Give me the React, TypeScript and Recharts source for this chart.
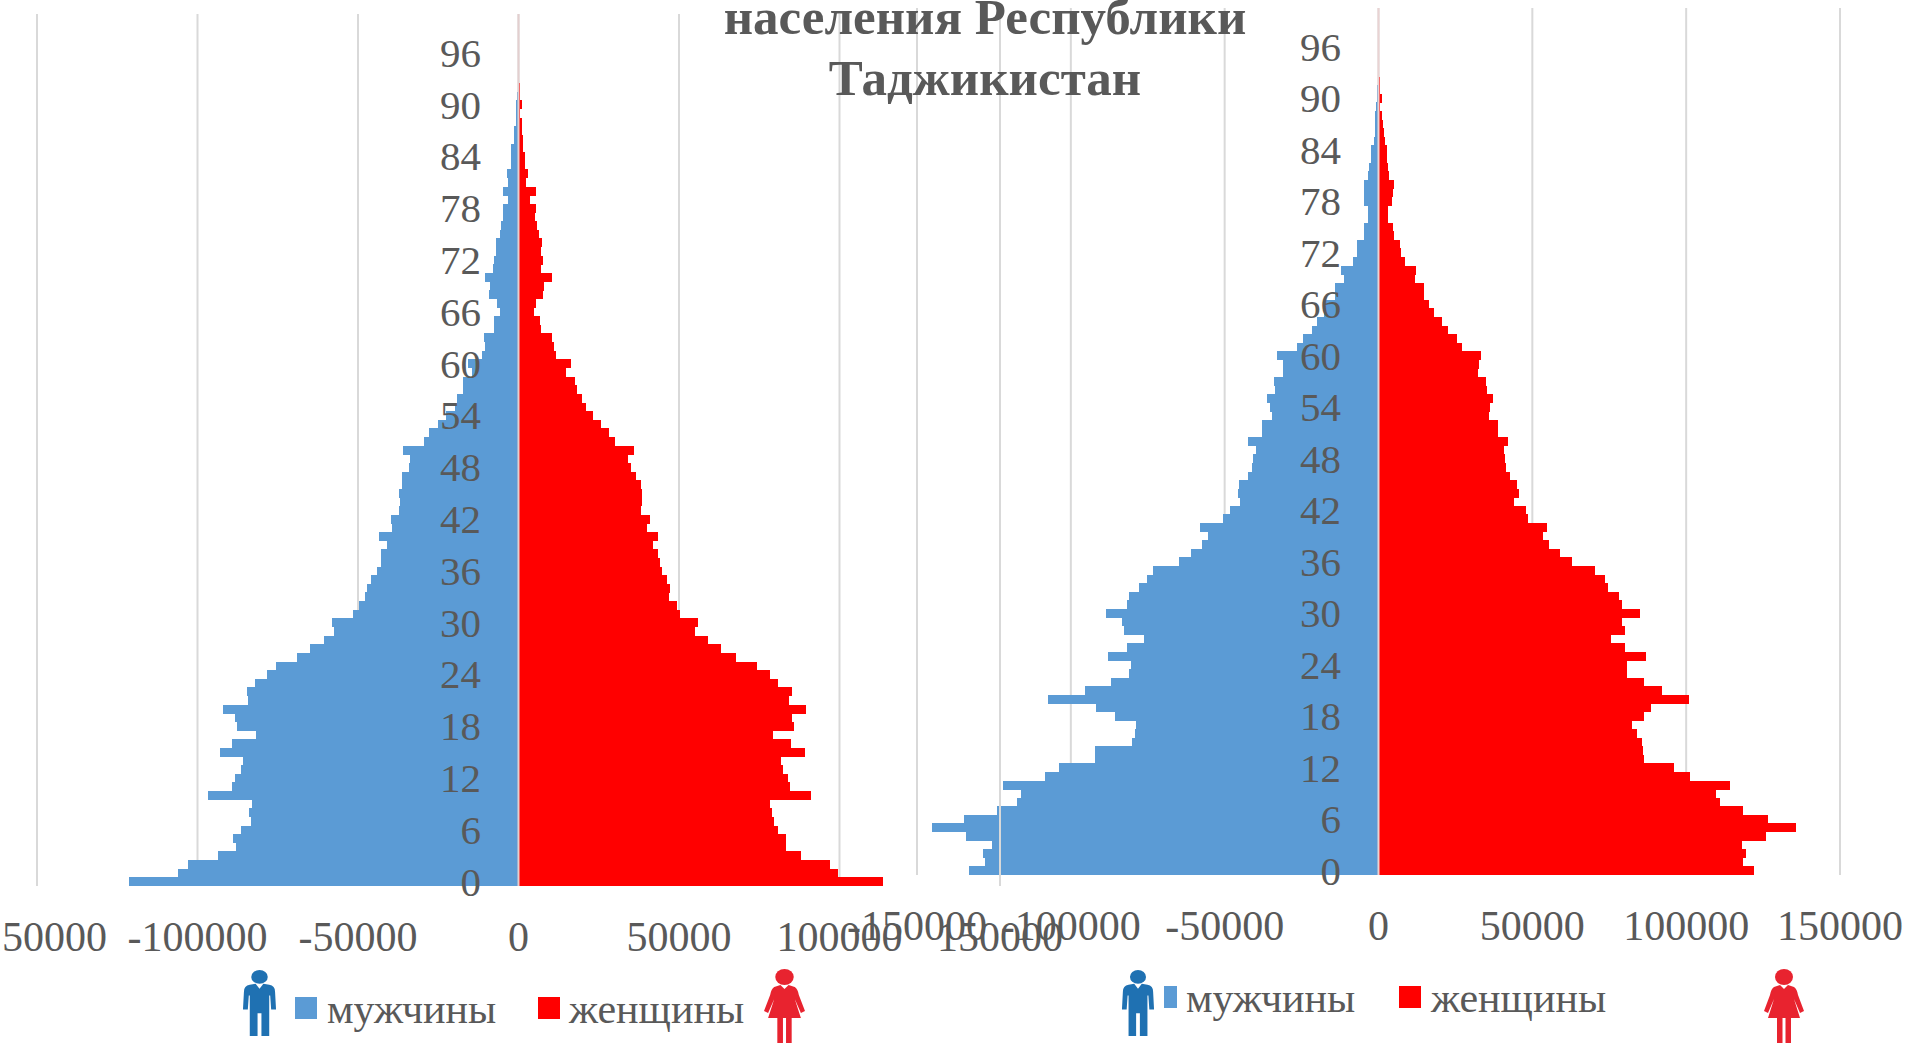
import { Bar, BarChart, CartesianGrid, Legend, ReferenceLine, XAxis, YAxis } from "recharts";

const maleLeft = [121350, 106080, 102840, 93490, 87960, 88910, 86430, 83380, 83950, 83000, 96740, 89100, 88340, 86430, 85670, 93110, 89100, 81660, 87580, 88340, 91970, 84330, 84520, 82230, 78230, 75560, 69070, 65060, 60480, 57620, 58000, 51520, 49800, 47700, 47320, 45980, 44070, 42930, 42740, 40830, 43310, 39500, 39690, 37210, 36820, 37210, 36440, 36250, 34150, 33770, 36060, 29570, 27860, 24990, 22510, 19650, 19270, 17170, 17170, 14500, 15840, 11450, 10300, 10680, 7630, 7630, 5910, 6680, 9160, 8780, 10300, 7820, 7630, 7060, 7060, 5910, 5340, 4960, 4770, 3240, 4770, 3240, 3630, 2480, 2290, 2290, 1340, 1340, 760, 760, 760, 400, 300, 220, 160, 110, 80, 60, 40, 30, 20];
const femaleLeft = [113530, 99600, 96930, 88150, 83380, 83380, 80900, 79750, 78990, 78230, 91200, 84520, 83950, 82430, 81850, 89100, 84910, 79180, 85670, 85100, 89490, 84140, 85100, 80900, 78230, 74220, 67730, 63150, 59150, 54950, 55900, 50180, 49420, 46940, 47130, 46170, 44650, 44070, 43310, 41790, 43500, 40070, 40830, 38160, 38350, 38540, 38160, 36630, 35110, 33960, 36060, 30150, 28240, 25570, 23090, 20990, 19650, 18130, 17740, 14690, 16220, 11640, 11070, 10490, 7060, 6680, 4960, 5340, 7630, 8010, 10300, 7060, 7630, 6870, 7440, 6300, 5910, 5150, 5530, 3430, 5530, 2480, 3050, 2100, 2100, 1530, 1530, 950, 950, 570, 950, 450, 350, 260, 190, 130, 100, 70, 50, 30, 20];
const maleRight = [133260, 128030, 128450, 125520, 134100, 144980, 134720, 123850, 117570, 116110, 121960, 108370, 103760, 92260, 92050, 80120, 79290, 78870, 85770, 91840, 107320, 95400, 87030, 81170, 80540, 88070, 81800, 76360, 82840, 83260, 88700, 81590, 80960, 77820, 75100, 73430, 64850, 61090, 57320, 55440, 57950, 50420, 48120, 44980, 45810, 45400, 42470, 41210, 40790, 39960, 42260, 37870, 37870, 34730, 35350, 36190, 33680, 33890, 31170, 31170, 33050, 26570, 24480, 21760, 20080, 17570, 17150, 14020, 14020, 11300, 12340, 8370, 7110, 7110, 4810, 4810, 3560, 3560, 4600, 4600, 4810, 3350, 2930, 2510, 2300, 1460, 1260, 1050, 1050, 840, 630, 400, 300, 220, 160, 110, 80, 60, 40, 30, 20];
const femaleRight = [121960, 118620, 119450, 117990, 125940, 135770, 126570, 118410, 110880, 109620, 114220, 101250, 96020, 86190, 85980, 85560, 83890, 82420, 86190, 88700, 101040, 92260, 86190, 80750, 80750, 86820, 80120, 75730, 80120, 79080, 85140, 79080, 78240, 74480, 73640, 70290, 62760, 58990, 55440, 53350, 54810, 48740, 47910, 43930, 45610, 44980, 42680, 41420, 41210, 40790, 42050, 38700, 38700, 35770, 36400, 37240, 35350, 34940, 32430, 32640, 33470, 27200, 25520, 22590, 20500, 17990, 16530, 14850, 14850, 11720, 12340, 8580, 7320, 6900, 5020, 4600, 2930, 2930, 4390, 4600, 5020, 3350, 3140, 2720, 2720, 2090, 1670, 1460, 1050, 630, 1050, 500, 380, 280, 200, 140, 100, 70, 50, 30, 20];

const ageTicks = [0, 6, 12, 18, 24, 30, 36, 42, 48, 54, 60, 66, 72, 78, 84, 90, 96];
const valueTicks = [-150000, -100000, -50000, 0, 50000, 100000, 150000];
const titleLines = ["населения Республики", "Таджикистан"];

const SERIF = "'Liberation Serif', serif";
const GREY = "#595959";
const BLUE = "#5b9bd5";
const RED = "#ff0000";

function toRows(male: number[], female: number[]) {
  return male.map((m, i) => ({ age: i, male: -m, female: female[i] }));
}

function ManIcon({ left, top, width, height }: { left: number; top: number; width: number; height: number }) {
  return (
    <svg viewBox="0 0 36 68" preserveAspectRatio="none" style={{ position: "absolute", left, top, width, height }}>
      <ellipse cx="18" cy="7" rx="8.5" ry="7" fill="#1f71b2" />
      <path
        d="M8 15 L14 14 L18 19 L22 14 L28 15 Q34 16 34 22 L35 40 L30 40 L29 26 L28 26 L28 67 L20 67 L20 44 L16 44 L16 67 L8 67 L8 26 L7 26 L6 40 L1 40 L2 22 Q2 16 8 15 Z"
        fill="#1f71b2"
      />
    </svg>
  );
}

function WomanIcon({ left, top, width, height }: { left: number; top: number; width: number; height: number }) {
  return (
    <svg viewBox="0 0 40 74" preserveAspectRatio="none" style={{ position: "absolute", left, top, width, height }}>
      <ellipse cx="20" cy="8" rx="9" ry="8" fill="#e8232f" />
      <path
        d="M10 18 L16 16 L20 20 L24 16 L30 18 Q33 20 34 26 L40 42 L36 44 L30 30 L36 49 L27 49 L27 74 L21.5 74 L21.5 49 L18.5 49 L18.5 74 L13 74 L13 49 L4 49 L10 30 L4 44 L0 42 L6 26 Q7 20 10 18 Z"
        fill="#e8232f"
      />
    </svg>
  );
}

interface PyramidProps {
  male: number[];
  female: number[];
  width: number;
  plotLeft: number;
  plotRight: number;
  plotTop: number;
  plotBottom: number;
  labelX: number;
  tickMargin: number;
  legendTop: number;
  swatch1: number;
  text1: number;
  swatch2: number;
  text2: number;
  swatchWidth: number;
  zeroColor: string;
}

function Pyramid(p: PyramidProps) {
  const data = toRows(p.male, p.female);
  const height = 1043;
  return (
    <BarChart
      width={p.width}
      height={height}
      data={data}
      layout="vertical"
      stackOffset="sign"
      barCategoryGap={0}
      margin={{ left: p.plotLeft - 1, right: p.width - p.plotRight, top: p.plotTop, bottom: height - p.plotBottom - 1 }}
    >
      <CartesianGrid horizontal={false} stroke="#d9d9d9" strokeWidth={2} syncWithTicks />
      <Bar dataKey="male" name="мужчины" stackId="a" fill={BLUE} shapeRendering="crispEdges" isAnimationActive={false} />
      <Bar dataKey="female" name="женщины" stackId="a" fill={RED} shapeRendering="crispEdges" isAnimationActive={false} />
      <ReferenceLine x={0} stroke={p.zeroColor} strokeWidth={2} />
      <XAxis
        type="number"
        domain={[-150000, 150000]}
        ticks={valueTicks}
        interval={0}
        height={1}
        axisLine={false}
        tickLine={false}
        tickMargin={p.tickMargin}
        tick={{ fontFamily: SERIF, fontSize: 42, fill: GREY }}
      />
      <YAxis
        type="category"
        dataKey="age"
        reversed
        ticks={ageTicks}
        interval={0}
        width={1}
        axisLine={false}
        tickLine={false}
        tick={(t: any) => (
          <text x={p.labelX} y={t.y} dy="0.34em" textAnchor="end" fontFamily={SERIF} fontSize={41} fill={GREY}>
            {t.payload.value}
          </text>
        )}
      />
      <Legend
        itemSorter={null as any}
        wrapperStyle={{ position: "absolute", left: 0, top: 0, width: p.width, height: 0 }}
        content={({ payload }: any) => (
          <div style={{ fontFamily: SERIF, fontSize: 42, color: GREY }}>
            {(payload ?? []).map((item: any, i: number) => (
              <div key={item.value}>
                <span
                  style={{
                    position: "absolute",
                    left: i === 0 ? p.swatch1 : p.swatch2,
                    top: p.legendTop,
                    width: i === 0 ? p.swatchWidth : 22,
                    height: 22,
                    background: item.color,
                  }}
                />
                <span
                  style={{
                    position: "absolute",
                    left: i === 0 ? p.text1 : p.text2,
                    top: p.legendTop - 11,
                    lineHeight: "46px",
                    whiteSpace: "nowrap",
                  }}
                >
                  {item.value}
                </span>
              </div>
            ))}
          </div>
        )}
      />
    </BarChart>
  );
}

export default function App() {
  return (
    <div style={{ position: "absolute", left: 0, top: 0, width: 1909, height: 1043, overflow: "hidden", background: "#fff" }}>
      <div style={{ position: "absolute", left: 809, top: 0 }}>
        <Pyramid
          male={maleRight}
          female={femaleRight}
          width={1100}
          plotLeft={108}
          plotRight={1031}
          plotTop={8}
          plotBottom={875}
          labelX={532}
          tickMargin={29}
          legendTop={986}
          swatch1={355}
          text1={377}
          swatch2={590}
          text2={622}
          swatchWidth={13}
          zeroColor="#e9d3d3"
        />
      </div>
      <div style={{ position: "absolute", left: 0, top: 0 }}>
        <Pyramid
          male={maleLeft}
          female={femaleLeft}
          width={1100}
          plotLeft={37}
          plotRight={1000}
          plotTop={14}
          plotBottom={886}
          labelX={481}
          tickMargin={29}
          legendTop={997}
          swatch1={295}
          text1={327}
          swatch2={538}
          text2={569}
          swatchWidth={22}
          zeroColor="#e3cfcf"
        />
      </div>
      <ManIcon left={242} top={970} width={35} height={67} />
      <WomanIcon left={764} top={969} width={41} height={74} />
      <ManIcon left={1121} top={970} width={34} height={67} />
      <WomanIcon left={1764} top={969} width={40} height={74} />
      <div
        style={{
          position: "absolute",
          left: 585,
          top: -13,
          width: 800,
          textAlign: "center",
          fontFamily: SERIF,
          fontWeight: 700,
          fontSize: 51,
          lineHeight: "61px",
          color: GREY,
        }}
      >
        {titleLines.map((line) => (
          <div key={line}>{line}</div>
        ))}
      </div>
    </div>
  );
}
